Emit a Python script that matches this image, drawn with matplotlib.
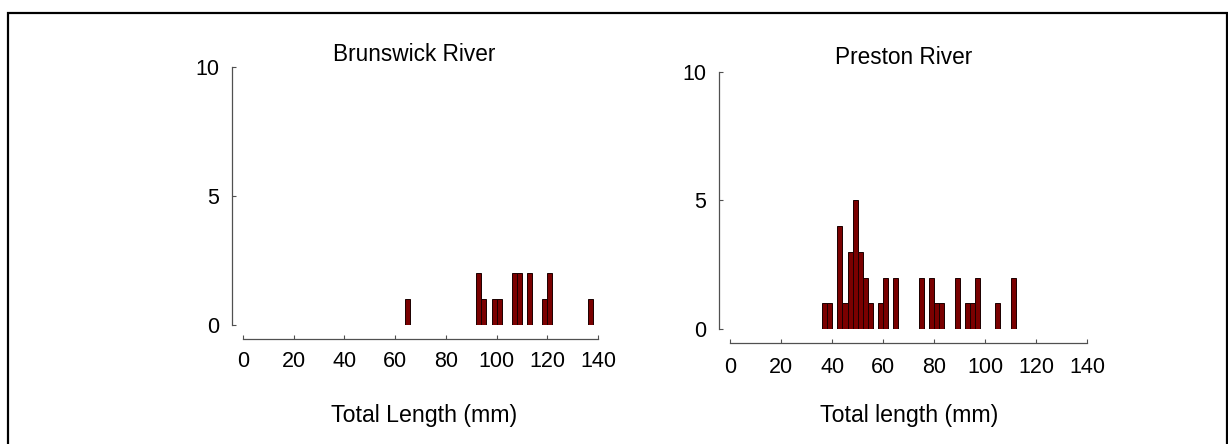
import matplotlib
matplotlib.use("Agg")
import matplotlib.pyplot as plt
from matplotlib.patches import Rectangle

plt.rcParams['font.family'] = ['Liberation Sans', 'DejaVu Sans']

# ---- data (bin centres in mm, bin width 2 mm; counts) ----
brunswick_len = [65, 93, 95, 99, 101, 107, 109, 113, 119, 121, 137]
brunswick_cnt = [1, 2, 1, 1, 1, 2, 2, 2, 1, 2, 1]

preston_len = [37, 39, 43, 45, 47, 49, 51, 53, 55, 59, 61, 65,
               75, 79, 81, 83, 89, 93, 95, 97, 105, 111]
preston_cnt = [1, 1, 4, 1, 3, 5, 3, 2, 1, 1, 2, 2,
               2, 2, 1, 1, 2, 1, 1, 2, 1, 2]

bin_width = 2
x_ticks = [0, 20, 40, 60, 80, 100, 120, 140]
y_ticks = [0, 5, 10]
titles = ["Brunswick River", "Preston River"]
xlabels = ["Total Length (mm)", "Total length (mm)"]

W, H = 1228, 444
DPI = 100
fig = plt.figure(figsize=(W / DPI, H / DPI), dpi=DPI)

def px2pt(p):
    return p * 72.0 / DPI

FS_TICK = 15.5
FS_TITLE = 16.3
FS_LABEL = 16.7
BAR_COLOR = '#7a0000'
EDGE = '#1a0000'
AX_COLOR = '#505050'

panels = [
    dict(x0=243, x1=598, y0=325, y1=67, ysp=232, xsp=339,
         title=(413.8, 54.8), xlab=(424.5, 415), xpad=12),
    dict(x0=730.3, x1=1087, y0=329, y1=71.7, ysp=719, xsp=343,
         title=(903.7, 57.3), xlab=(909.6, 415), xpad=14),
]
data = [(brunswick_len, brunswick_cnt), (preston_len, preston_cnt)]

for i, (p, (lens, cnts)) in enumerate(zip(panels, data)):
    ax = fig.add_axes([p['x0'] / W, (H - p['y0']) / H,
                       (p['x1'] - p['x0']) / W, (p['y0'] - p['y1']) / H])
    ax.bar(lens, cnts, width=bin_width, color=BAR_COLOR, edgecolor=EDGE,
           linewidth=0.7, align='center', zorder=3)
    ax.set_xlim(0, 140)
    ax.set_ylim(0, 10)
    ax.set_facecolor('none')
    for s in ['top', 'right']:
        ax.spines[s].set_visible(False)
    ax.spines['left'].set_position(('outward', px2pt(p['x0'] - p['ysp'])))
    ax.spines['bottom'].set_position(('outward', px2pt(p['xsp'] - p['y0'])))
    ax.spines['left'].set_bounds(0, 10)
    ax.spines['bottom'].set_bounds(0, 140)
    for s in ['left', 'bottom']:
        ax.spines[s].set_color(AX_COLOR)
        ax.spines[s].set_linewidth(0.9)
    ax.set_xticks(x_ticks)
    ax.set_yticks(y_ticks)
    ax.tick_params(axis='x', direction='in', length=3, width=0.8,
                   color=AX_COLOR, labelsize=FS_TICK, pad=px2pt(p['xpad']))
    ax.tick_params(axis='y', direction='in', length=3, width=0.8,
                   color=AX_COLOR, labelsize=FS_TICK, pad=px2pt(13))
    fig.text(p['title'][0] / W, 1 - p['title'][1] / H, titles[i],
             ha='center', va='center', fontsize=FS_TITLE)
    fig.text(p['xlab'][0] / W, 1 - p['xlab'][1] / H, xlabels[i],
             ha='center', va='center', fontsize=FS_LABEL)

# outer frame (bottom edge lies outside the image)
fig.add_artist(Rectangle((7.5 / W, -20 / H), (1227 - 7.5) / W, (H + 20 - 13) / H,
                         transform=fig.transFigure, fill=False,
                         edgecolor='black', linewidth=px2pt(2.2)))

fig.savefig('out.png', dpi=DPI)
